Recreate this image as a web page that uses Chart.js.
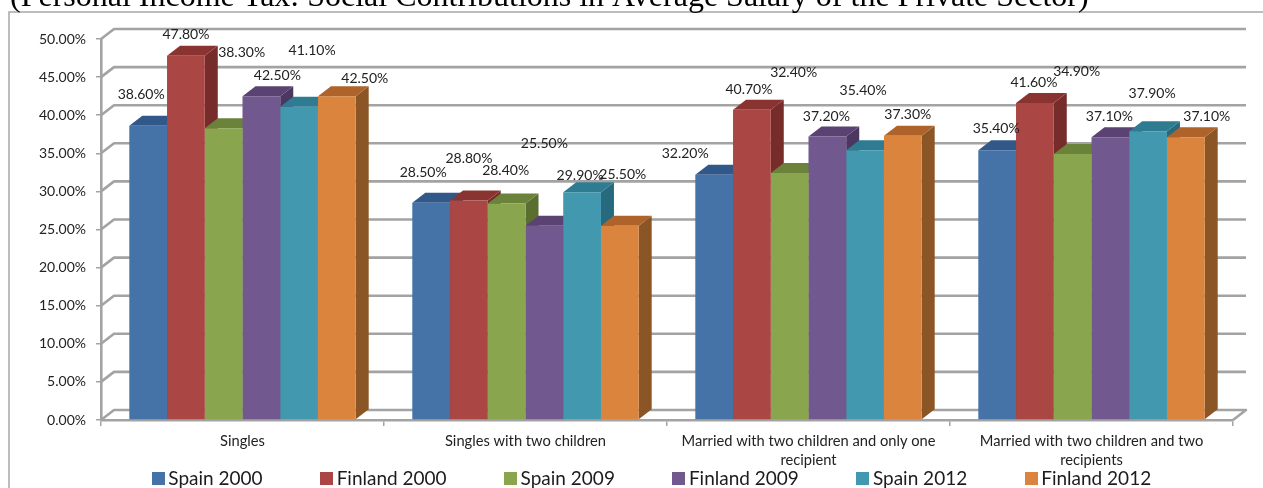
<!DOCTYPE html>
<html><head><meta charset="utf-8">
<style>html,body{margin:0;padding:0;background:#fff;overflow:hidden}canvas{display:block}</style>
<script src="https://cdn.jsdelivr.net/npm/chart.js@4"></script>
</head><body>
<canvas id="c" width="1263" height="488"></canvas>
<script>
const titleText = "(Personal Income Tax: Social Contributions in Average Salary of the Private Sector)";
const categories = [
  "Singles",
  "Singles with two children",
  ["Married with two children and only one", "recipient"],
  ["Married with two children and two", "recipients"]
];
const seriesNames = ["Spain 2000", "Finland 2000", "Spain 2009", "Finland 2009", "Spain 2012", "Finland 2012"];
const spain2000 = [38.6, 28.5, 32.2, 35.4];
const finland2000 = [47.8, 28.8, 40.7, 41.6];
const spain2009 = [38.3, 28.4, 32.4, 34.9];
const finland2009 = [42.5, 25.5, 37.2, 37.1];
const spain2012 = [41.1, 29.9, 35.4, 37.9];
const finland2012 = [42.5, 25.5, 37.3, 37.1];
const seriesValues = [spain2000, finland2000, spain2009, finland2009, spain2012, finland2012];

const frontColors = ["#4572a7", "#aa4643", "#89a54e", "#71588f", "#4198af", "#db843d"];
const topColors = ["#32588a", "#8a3432", "#6b823a", "#5a4273", "#2f7b92", "#ad6329"];
const sideColors = ["#2b4b76", "#762c2b", "#5a6e30", "#4b3760", "#276a7e", "#8b5526"];

// hand placement of each data label relative to its bar top (series by category)
const labelDx = [[-7,-8,-29,-1],[0,0,-3,-1],[18,-1,4,4],[16,0,-1,-1],[13,-2,-2,4],[28,3,5,21]];
const labelDy = [[-31,-30,-21,-22],[-21,-42,-20,-21],[-76,-33,-101,-83],[-21,-82,-20,-21],[-56,-17,-60,-38],[-18,-51,-21,-21]];

const GRID = "#a3a3a3", DX = 13, DY = -10, BASEFONT = "Lato, 'Open Sans', sans-serif";

function legendSwatch(color) {
  const s = document.createElement("canvas");
  s.width = 13; s.height = 13;
  const x = s.getContext("2d");
  x.fillStyle = color; x.fillRect(0, 0, 13, 13);
  return s;
}

const threeD = {
  id: "threeD",
  beforeLayout(chart) {
    const lg = chart.legend;
    if (lg && !lg._wrapped) {
      const f = lg.fit.bind(lg);
      lg.fit = function () { f(); this.height = 20; };
      lg._wrapped = true;
    }
  },
  afterLayout(chart) {
    const lg = chart.legend;
    lg.top = 469 - lg.options.labels.padding;
    lg.bottom = 488;
    lg.left += 38; lg.right += 38;
    chart.titleBlock.left = 10;
  },
  beforeDraw(chart) {
    const c = chart.ctx;
    c.save();
    c.strokeStyle = "#a8a8a8"; c.lineWidth = 1.5;
    c.beginPath(); c.moveTo(1263, 12); c.lineTo(9, 12); c.lineTo(9, 488); c.stroke();
    c.restore();
  },
  beforeDatasetsDraw(chart) {
    const c = chart.ctx, ys = chart.scales.y, xs = chart.scales.x;
    c.save();
    c.strokeStyle = GRID; c.lineWidth = 2.6; c.lineJoin = "round";
    ys.ticks.forEach(t => {
      const y = ys.getPixelForValue(t.value);
      c.beginPath();
      c.moveTo(xs.left, y);
      c.lineTo(xs.left + DX, y + DY);
      c.lineTo(xs.right + DX, y + DY);
      if (t.value === 0) c.lineTo(xs.right, y);
      c.stroke();
    });
    seriesValues.forEach((vals, d) => {
      chart.getDatasetMeta(d).data.forEach(b => {
        const l = b.x - b.width / 2, r = b.x + b.width / 2, t = b.y, base = b.base;
        c.fillStyle = sideColors[d];
        c.beginPath(); c.moveTo(r, t); c.lineTo(r + DX, t + DY); c.lineTo(r + DX, base + DY); c.lineTo(r, base); c.closePath(); c.fill();
        c.fillStyle = topColors[d];
        c.beginPath(); c.moveTo(l, t); c.lineTo(l + DX, t + DY); c.lineTo(r + DX, t + DY); c.lineTo(r, t); c.closePath(); c.fill();
      });
    });
    c.restore();
  },
  afterDatasetsDraw(chart) {
    const c = chart.ctx;
    c.save();
    c.fillStyle = "#222"; c.font = "14px " + BASEFONT;
    c.textAlign = "center"; c.textBaseline = "middle";
    seriesValues.forEach((vals, d) => {
      chart.getDatasetMeta(d).data.forEach((b, i) => {
        c.fillText(vals[i].toFixed(2) + "%", b.x + labelDx[d][i], b.y + labelDy[d][i]);
      });
    });
    c.restore();
  }
};

new Chart(document.getElementById("c"), {
  type: "bar",
  plugins: [threeD],
  data: {
    labels: categories,
    datasets: seriesNames.map((n, i) => ({
      label: n, data: seriesValues[i],
      backgroundColor: frontColors[i], borderWidth: 0,
      categoryPercentage: 0.8, barPercentage: 1
    }))
  },
  options: {
    responsive: false, animation: false, devicePixelRatio: 1,
    layout: { padding: { left: 0, right: 30, top: 0, bottom: 0 } },
    plugins: {
      tooltip: { enabled: false },
      title: {
        display: true, text: titleText, align: "start", color: "#000",
        font: { family: "'Liberation Serif', serif", size: 32, weight: "normal", lineHeight: 1.2 },
        padding: { top: -22, bottom: 22.6 }
      },
      legend: {
        position: "bottom",
        labels: {
          padding: 63.5, boxWidth: 1, boxHeight: 13, usePointStyle: true, color: "#1c1c1c",
          font: { family: BASEFONT, size: 19 },
          generateLabels(chart) {
            const items = Chart.defaults.plugins.legend.labels.generateLabels(chart);
            items.forEach((it, i) => { it.pointStyle = legendSwatch(frontColors[i]); });
            return items;
          }
        }
      }
    },
    scales: {
      x: {
        afterFit(s) { s.height = 48; },
        grid: { drawOnChartArea: false, drawTicks: true, tickLength: 6, color: GRID, lineWidth: 1.5 },
        border: { color: GRID, width: 2.6 },
        ticks: { color: "#222", padding: 6, maxRotation: 0, autoSkip: false, font: { family: BASEFONT, size: 14.7, lineHeight: 1.3 } }
      },
      y: {
        min: 0, max: 50,
        afterFit(s) { s.width = 101; },
        grid: { drawOnChartArea: false, drawTicks: true, tickLength: 5, color: GRID, lineWidth: 1.5 },
        border: { color: GRID, width: 2.6 },
        ticks: { stepSize: 5, color: "#222", padding: 10, font: { family: BASEFONT, size: 14 }, callback: v => v.toFixed(2) + "%" }
      }
    }
  }
});
</script>
</body></html>
